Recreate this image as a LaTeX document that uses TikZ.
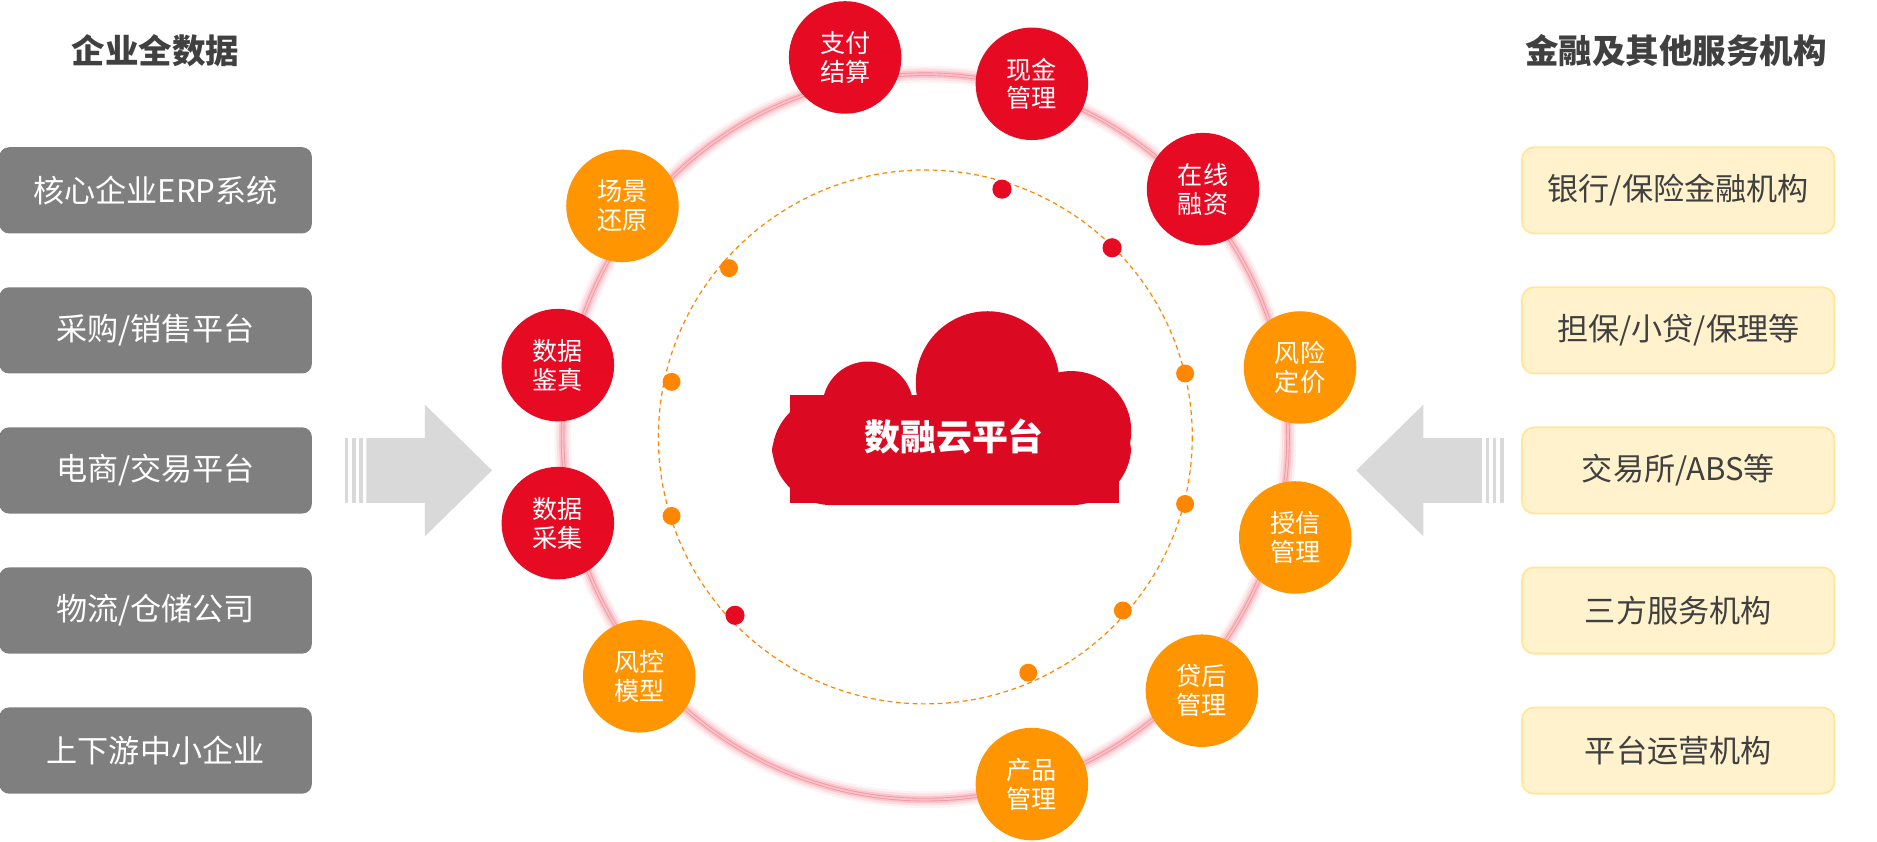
\documentclass[tikz,border=0pt]{standalone}
\usepackage{fontspec}
\setmainfont{Noto Sans CJK SC}
\usetikzlibrary{shapes.geometric}
\definecolor{cred}{HTML}{E60A23}
\definecolor{corange}{HTML}{FF9500}
\definecolor{lgray}{HTML}{7F7F7F}
\definecolor{ybox}{HTML}{FFF2CC}
\definecolor{yline}{HTML}{FFE699}
\definecolor{dtext}{HTML}{404040}
\definecolor{arrowg}{HTML}{D9D9D9}
\tikzset{
 lbox/.style={rounded corners=8pt,fill=lgray,minimum width=261pt,minimum height=72pt,text=white,font=\fontsize{26}{30}\selectfont},
 rbox/.style={rounded corners=10pt,fill=ybox,draw=yline,line width=1.5pt,minimum width=261pt,minimum height=72pt,text=dtext,font=\fontsize{26}{30}\selectfont},
 ttl/.style={text=dtext,font=\bfseries\fontsize{28}{32}\selectfont},
 sat/.style={circle,minimum size=94pt,inner sep=0pt,text=white,align=center,font=\fontsize{21}{24}\selectfont},
 rsat/.style={sat,fill=cred},
 osat/.style={sat,fill=corange},
 rdot/.style={circle,fill=cred,minimum size=16pt,inner sep=0pt},
 odot/.style={circle,fill=corange!90!red,minimum size=15pt,inner sep=0pt},
}
\begin{document}
\begin{tikzpicture}[x=1pt,y=-1pt]
\useasboundingbox (0,0) rectangle (1568,703);
% titles
\node[ttl] (tl) at (130,42) {企业全数据};
\node[ttl] (tr) at (1400,42) {金融及其他服务机构};
% left boxes
\node[lbox] (l1) at (130,159) {核心企业ERP系统};
\node[lbox] (l2) at (130,276) {采购/销售平台};
\node[lbox] (l3) at (130,393) {电商/交易平台};
\node[lbox] (l4) at (130,510) {物流/仓储公司};
\node[lbox] (l5) at (130,627) {上下游中小企业};
% right boxes
\node[rbox] (r1) at (1402,159) {银行/保险金融机构};
\node[rbox] (r2) at (1402,276) {担保/小贷/保理等};
\node[rbox] (r3) at (1402,393) {交易所/ABS等};
\node[rbox] (r4) at (1402,510) {三方服务机构};
\node[rbox] (r5) at (1402,627) {平台运营机构};
% arrows
\fill[arrowg] (306,366) -- (355,366) -- (355,338) -- (411,393) -- (355,448) -- (355,420) -- (306,420) -- cycle;
\foreach \x in {288,294,300} \fill[arrowg] (\x,366) rectangle (\x+3,420);
\fill[arrowg] (1238,366) -- (1189,366) -- (1189,338) -- (1133,393) -- (1189,448) -- (1189,420) -- (1238,420) -- cycle;
\foreach \x in {1241,1247,1253} \fill[arrowg] (\x,366) rectangle (\x+3,420);
% big circle with glow
\coordinate (c) at (773,365);
\foreach \w/\o in {14/0.05,10/0.08,6/0.12,3/0.25} \draw[cred,opacity=\o,line width=\w pt] (c) circle (303);
\draw[cred!25,line width=1.5pt] (c) circle (303);
% dashed circle
\draw[corange!90!red,dashed,line width=1pt,dash pattern=on 4pt off 3pt] (c) circle (223);
% cloud
\fill[cred!95!black] (660,330) rectangle (935,420);
\fill[cred!95!black] (700,420) circle (0) ;
\fill[cred!95!black,rounded corners=50pt] (645,330) rectangle (945,422);
\fill[cred!95!black] (825,320) circle (60);
\fill[cred!95!black] (725,340) circle (38);
\fill[cred!95!black] (895,360) circle (50);
\node[text=white,font=\bfseries\fontsize{30}{34}\selectfont] (cloud) at (797,365) {数融云平台};
% satellites
\node[rsat] (s1) at (706,48) {支付\\结算};
\node[rsat] (s2) at (862,70) {现金\\管理};
\node[rsat] (s3) at (1005,158) {在线\\融资};
\node[osat] (s4) at (1086,307) {风险\\定价};
\node[osat] (s5) at (1082,449) {授信\\管理};
\node[osat] (s6) at (1004,577) {贷后\\管理};
\node[osat] (s7) at (862,655) {产品\\管理};
\node[osat] (s8) at (534,565) {风控\\模型};
\node[rsat] (s9) at (466,437) {数据\\采集};
\node[rsat] (s10) at (466,305) {数据\\鉴真};
\node[osat] (s11) at (520,172) {场景\\还原};
% dots
\node[rdot] (d1) at (837,158) {};
\node[rdot] (d2) at (929,207) {};
\node[rdot] (d3) at (614,514) {};
\node[odot] (d4) at (609,224) {};
\node[odot] (d5) at (561,319) {};
\node[odot] (d6) at (561,431) {};
\node[odot] (d7) at (990,312) {};
\node[odot] (d8) at (990,421) {};
\node[odot] (d9) at (938,510) {};
\node[odot] (d10) at (859,562) {};
\end{tikzpicture}
\end{document}
